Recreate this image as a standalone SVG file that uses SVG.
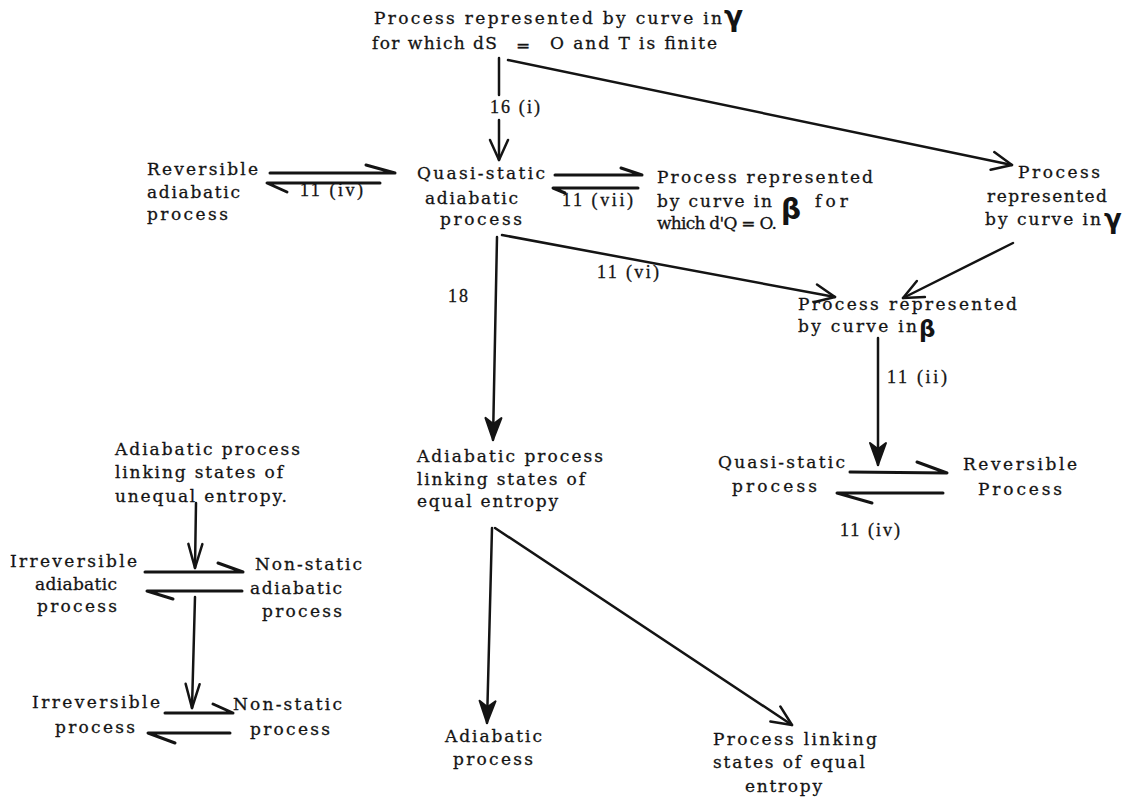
<svg xmlns="http://www.w3.org/2000/svg" width="1133" height="802" viewBox="0 0 1133 802">
<defs>
<style>
.t{font-family:"DejaVu Serif","Liberation Serif",serif;font-size:17px;fill:#141414;stroke:#141414;stroke-width:0.3}
.l{font-family:"Liberation Serif","DejaVu Serif",serif;font-size:18px;fill:#141414;stroke:#141414;stroke-width:0.3}
.g{font-family:"DejaVu Sans",sans-serif;font-weight:bold;fill:#141414}
.c{stroke:#141414;stroke-width:2.5;fill:none;stroke-linecap:round;stroke-linejoin:round}
.h{stroke:#141414;stroke-width:3;fill:none;stroke-linecap:round;stroke-linejoin:round}
</style>
<marker id="v" viewBox="0 0 22 20" refX="21" refY="10" markerWidth="22" markerHeight="20" markerUnits="userSpaceOnUse" orient="auto" overflow="visible">
<path d="M1,1 L21,10 L1,19" fill="none" stroke="#141414" stroke-width="2.5" stroke-linecap="round" stroke-linejoin="round"/>
</marker>
<marker id="vl" viewBox="0 0 26 16" refX="25" refY="8" markerWidth="26" markerHeight="16" markerUnits="userSpaceOnUse" orient="auto" overflow="visible">
<path d="M1,1 L25,8 L1,15" fill="none" stroke="#141414" stroke-width="2.5" stroke-linecap="round" stroke-linejoin="round"/>
</marker>
<marker id="vf" viewBox="0 0 24 18" refX="23" refY="9" markerWidth="24" markerHeight="18" markerUnits="userSpaceOnUse" orient="auto" overflow="visible">
<path d="M1,1 L23,9 L1,17 L7,9 Z" fill="#141414" stroke="#141414" stroke-width="2" stroke-linejoin="round"/>
</marker>
</defs>
<rect width="1133" height="802" fill="#ffffff"/>

<g id="connectors">
<line class="c" x1="499" y1="58" x2="499" y2="95"/>
<line class="c" x1="499" y1="120" x2="499" y2="160" marker-end="url(#v)"/>
<line class="c" x1="508" y1="60" x2="1012" y2="165" marker-end="url(#v)"/>
<path class="h" d="M270,173 L395,173 L366,165"/>
<path class="h" d="M380,183 L267,183 L287,192"/>
<path class="h" d="M555,175 L642,175 L621,168"/>
<path class="h" d="M638,188 L553,188 L565,193"/>
<line class="c" x1="502" y1="235" x2="835" y2="297" marker-end="url(#v)"/>
<line class="c" x1="497" y1="237" x2="493" y2="440" marker-end="url(#vf)"/>
<line class="c" x1="1013" y1="243" x2="903" y2="298" marker-end="url(#v)"/>
<line class="c" x1="878" y1="338" x2="878" y2="465" marker-end="url(#vf)"/>
<path class="h" d="M850,472 L947,473 L917,462"/>
<path class="h" d="M943,493 L837,493 L872,503"/>
<line class="c" x1="492" y1="528" x2="487" y2="723" marker-end="url(#vf)"/>
<line class="c" x1="495" y1="528" x2="792" y2="725" marker-end="url(#v)"/>
<line class="c" x1="196" y1="503" x2="195" y2="568" marker-end="url(#vl)"/>
<path class="h" d="M145,572 L243,572 L218,563"/>
<path class="h" d="M242,591 L147,591 L173,599"/>
<line class="c" x1="195" y1="597" x2="192" y2="708" marker-end="url(#vl)"/>
<path class="h" d="M165,713 L233,713 L213,704"/>
<path class="h" d="M230,733 L148,733 L175,743"/>
<text class="l" x="490" y="113" textLength="50" lengthAdjust="spacing">16 (i)</text>
<text class="l" x="300" y="196" textLength="63" lengthAdjust="spacing">11 (iv)</text>
<text class="l" x="562" y="206" textLength="71" lengthAdjust="spacing">11 (vii)</text>
<text class="l" x="597" y="278" textLength="62" lengthAdjust="spacing">11 (vi)</text>
<text class="l" x="448" y="302" textLength="20" lengthAdjust="spacing">18</text>
<text class="l" x="887" y="383" textLength="60" lengthAdjust="spacing">11 (ii)</text>
<text class="l" x="840" y="536" textLength="60" lengthAdjust="spacing">11 (iv)</text>
</g>

<g id="n-top">
<text class="t" x="374" y="24" textLength="348" lengthAdjust="spacing">Process represented by curve in</text>
<text class="g" x="724" y="26" font-size="28">γ</text>
<text class="t" x="372" y="49" textLength="125" lengthAdjust="spacing">for which dS</text>
<text class="t" x="516" y="51" font-size="14">=</text>
<text class="t" x="550" y="49" textLength="167" lengthAdjust="spacing">O and T is finite</text>
</g>

<g id="n-reversible-adiabatic">
<text class="t" x="147" y="175" textLength="111" lengthAdjust="spacing">Reversible</text>
<text class="t" x="147" y="198" textLength="93" lengthAdjust="spacing">adiabatic</text>
<text class="t" x="147" y="220" textLength="81" lengthAdjust="spacing">process</text>
</g>

<g id="n-quasistatic-adiabatic">
<text class="t" x="417" y="179" textLength="128" lengthAdjust="spacing">Quasi-static</text>
<text class="t" x="425" y="204" textLength="93" lengthAdjust="spacing">adiabatic</text>
<text class="t" x="440" y="225" textLength="82" lengthAdjust="spacing">process</text>
</g>

<g id="n-beta-dq0">
<text class="t" x="657" y="183" textLength="216" lengthAdjust="spacing">Process represented</text>
<text class="t" x="657" y="207" textLength="115" lengthAdjust="spacing">by curve in</text>
<text class="g" x="781" y="219" font-size="28">β</text>
<text class="t" x="815" y="207" textLength="33" lengthAdjust="spacing">for</text>
<text class="t" x="657" y="229" font-size="15.5" textLength="120" lengthAdjust="spacing">which d'Q = O.</text>
</g>

<g id="n-gamma">
<text class="t" x="1018" y="178" textLength="82" lengthAdjust="spacing">Process</text>
<text class="t" x="987" y="202" textLength="120" lengthAdjust="spacing">represented</text>
<text class="t" x="985" y="225" textLength="116" lengthAdjust="spacing">by curve in</text>
<text class="g" x="1104" y="228" font-size="26">γ</text>
</g>

<g id="n-beta">
<text class="t" x="798" y="310" textLength="219" lengthAdjust="spacing">Process represented</text>
<text class="t" x="798" y="332" textLength="119" lengthAdjust="spacing">by curve in</text>
<text class="g" x="919" y="337" font-size="23">β</text>
</g>

<g id="n-quasistatic">
<text class="t" x="718" y="468" textLength="127" lengthAdjust="spacing">Quasi-static</text>
<text class="t" x="732" y="492" textLength="85" lengthAdjust="spacing">process</text>
</g>

<g id="n-reversible">
<text class="t" x="963" y="470" textLength="114" lengthAdjust="spacing">Reversible</text>
<text class="t" x="978" y="495" textLength="84" lengthAdjust="spacing">Process</text>
</g>

<g id="n-adiabatic-equal">
<text class="t" x="417" y="462" textLength="186" lengthAdjust="spacing">Adiabatic process</text>
<text class="t" x="417" y="485" textLength="168" lengthAdjust="spacing">linking states of</text>
<text class="t" x="417" y="507" textLength="141" lengthAdjust="spacing">equal entropy</text>
</g>

<g id="n-adiabatic">
<text class="t" x="445" y="742" textLength="97" lengthAdjust="spacing">Adiabatic</text>
<text class="t" x="453" y="765" textLength="80" lengthAdjust="spacing">process</text>
</g>

<g id="n-equal-entropy">
<text class="t" x="713" y="745" textLength="164" lengthAdjust="spacing">Process linking</text>
<text class="t" x="713" y="768" textLength="152" lengthAdjust="spacing">states of equal</text>
<text class="t" x="745" y="792" textLength="77" lengthAdjust="spacing">entropy</text>
</g>

<g id="n-adiabatic-unequal">
<text class="t" x="115" y="455" textLength="185" lengthAdjust="spacing">Adiabatic process</text>
<text class="t" x="115" y="478" textLength="168" lengthAdjust="spacing">linking states of</text>
<text class="t" x="115" y="502" textLength="172" lengthAdjust="spacing">unequal entropy.</text>
</g>

<g id="n-irreversible-adiabatic">
<text class="t" x="10" y="567" textLength="127" lengthAdjust="spacing">Irreversible</text>
<text class="t" x="35" y="590" textLength="82" lengthAdjust="spacing">adiabatic</text>
<text class="t" x="37" y="612" textLength="80" lengthAdjust="spacing">process</text>
</g>

<g id="n-nonstatic-adiabatic">
<text class="t" x="255" y="570" textLength="107" lengthAdjust="spacing">Non-static</text>
<text class="t" x="250" y="594" textLength="92" lengthAdjust="spacing">adiabatic</text>
<text class="t" x="262" y="617" textLength="80" lengthAdjust="spacing">process</text>
</g>

<g id="n-irreversible">
<text class="t" x="32" y="708" textLength="128" lengthAdjust="spacing">Irreversible</text>
<text class="t" x="55" y="733" textLength="80" lengthAdjust="spacing">process</text>
</g>

<g id="n-nonstatic">
<text class="t" x="233" y="710" textLength="109" lengthAdjust="spacing">Non-static</text>
<text class="t" x="250" y="735" textLength="80" lengthAdjust="spacing">process</text>
</g>
</svg>
